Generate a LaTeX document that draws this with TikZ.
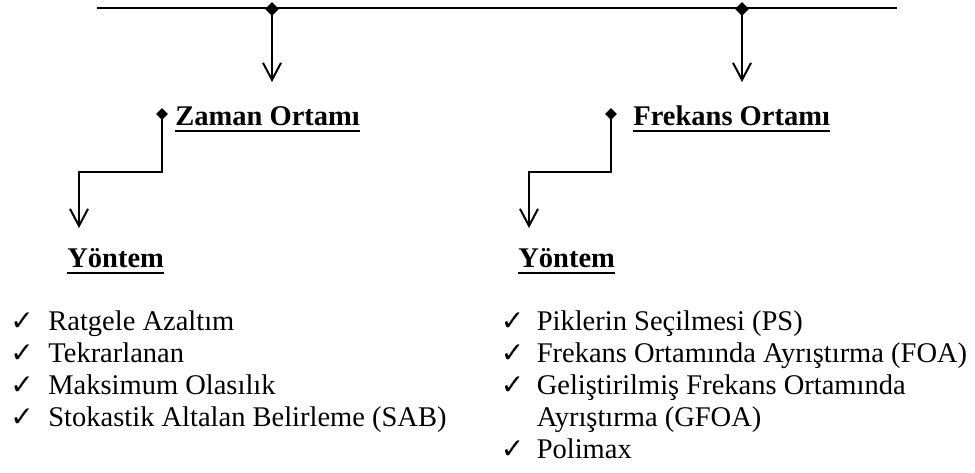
\documentclass[tikz,border=0pt]{standalone}
\usepackage{fontspec}
\setmainfont{Liberation Serif}
\newfontfamily\checkfont{DejaVu Sans}
\usetikzlibrary{arrows.meta,shapes.geometric,matrix,positioning}
\newcommand{\ulText}[1]{\setbox0\hbox{\textbf{#1}}\rlap{\rule[-3.7pt]{\wd0}{1.3pt}}\box0}
\tikzset{
flow_arrow/.style={-{Straight Barb[length=8.5pt,width=9pt]},line width=1pt},
elbow_line/.style={line width=1pt,rounded corners=0pt},
tap_node/.style={diamond,fill=black,inner sep=0pt,minimum width=#1,minimum height=#1},
method_item/.style={inner sep=0pt,anchor=base west,text height=11.2pt,text depth=4.8pt,font=\fontsize{14.25}{16}\selectfont},
check_node/.style={method_item,text width=#1,font=\checkfont\fontsize{14}{16}\selectfont}
}
\tikzstyle{header_text} =[inner sep=0pt,anchor=base west,font=\fontsize{14.25}{16}\selectfont]
\tikzstyle{list_matrix} =[inner sep=0pt,column sep=0pt,row sep=0pt,anchor=north west]
\begin{document}
\begin{tikzpicture}[x=0.5pt,y=-0.5pt]
    \useasboundingbox (0,0) rectangle (975,472);

    % Bus line and the two taps
    \coordinate (bus_left) at (97,8);
    \coordinate (bus_right) at (897,8);
    \draw[line width=1.3pt] (bus_left) -- (bus_right);
    \node[tap_node=7pt] (zaman_tap) at (272,9) {};
    \node[tap_node=7pt] (frekans_tap) at (742,9) {};
    \coordinate (zaman_in) at (272,82);
    \coordinate (frekans_in) at (742,82);
    \draw[flow_arrow] (zaman_tap.center) -- (zaman_in);
    \draw[flow_arrow] (frekans_tap.center) -- (frekans_in);

    % Domain headers
    \node[header_text] (zaman_header) at (175,125) {\ulText{Zaman Ortamı}};
    \node[header_text] (frekans_header) at (633,125) {\ulText{Frekans Ortamı}};
    \node[tap_node=6pt] (zaman_dot) at (162,114) {};
    \node[tap_node=6pt] (frekans_dot) at (611,114) {};

    % Elbow connectors to the method headers
    \coordinate (zaman_out) at (79,228);
    \coordinate (frekans_out) at (529,228);
    \draw[elbow_line,flow_arrow] (zaman_dot.center) -- ++(0,58) -| (zaman_out);
    \draw[elbow_line,flow_arrow] (frekans_dot.center) -- ++(0,58) -| (frekans_out);

    \node[header_text] (zaman_method_header) at (67,267) {\ulText{Yöntem}};
    \node[header_text] (frekans_method_header) at (518,267) {\ulText{Yöntem}};

    % Method lists
    \matrix[list_matrix] (zaman_methods) at (10,307.6)
    {
        \node[check_node=19pt]{✓}; & \node[method_item](ratgele_item){Ratgele Azaltım};                      \\
        \node[check_node=19pt]{✓}; & \node[method_item](tekrar_item){Tekrarlanan};                           \\
        \node[check_node=19pt]{✓}; & \node[method_item](maksimum_item){Maksimum Olasılık};                   \\
        \node[check_node=19pt]{✓}; & \node[method_item](sab_item){Stokastik Altalan Belirleme (SAB)};        \\
    };

    \matrix[list_matrix] (frekans_methods) at (500,307.6)
    {
        \node[check_node=18pt]{✓}; & \node[method_item](ps_item){Piklerin Seçilmesi (PS)};                   \\
        \node[check_node=18pt]{✓}; & \node[method_item](foa_item){Frekans Ortamında Ayrıştırma (FOA)};        \\
        \node[check_node=18pt]{✓}; & \node[method_item](gfoa_item){Geliştirilmiş Frekans Ortamında};         \\
                                   & \node[method_item](gfoa_item_cont){Ayrıştırma (GFOA)};                 \\
        \node[check_node=18pt]{✓}; & \node[method_item](polimax_item){Polimax};                             \\
    };
\end{tikzpicture}
\end{document}
